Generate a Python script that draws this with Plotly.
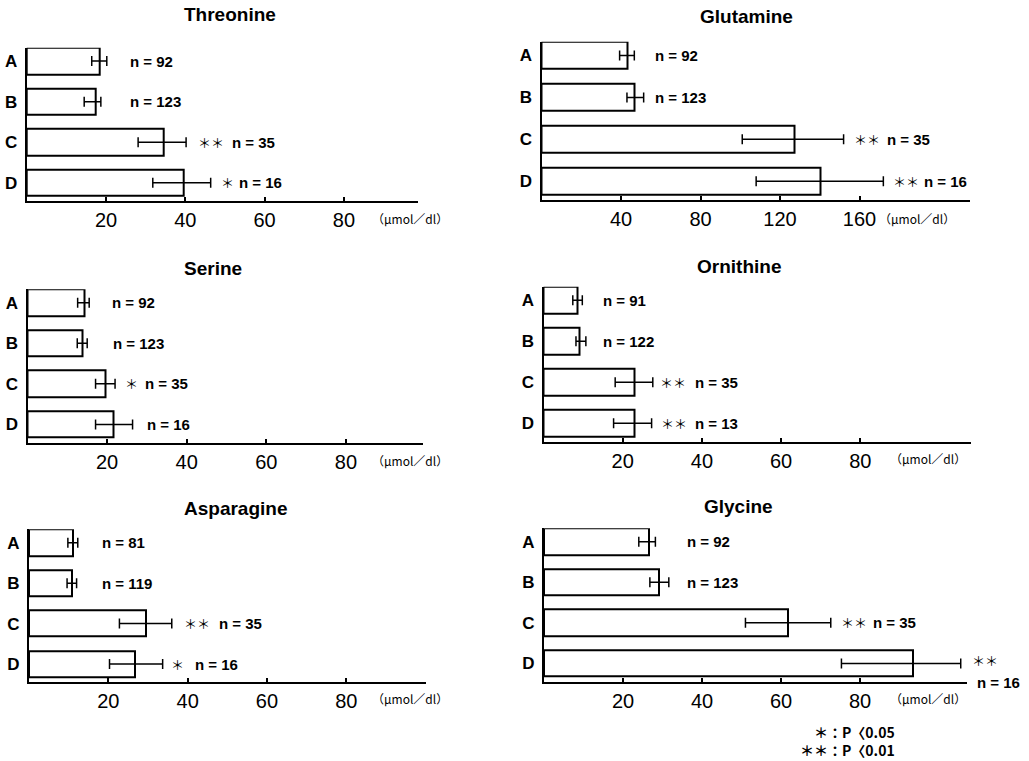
import plotly.graph_objects as go

W, H = 1029, 761

groups = ["A", "B", "C", "D"]
titles = ["Threonine", "Glutamine", "Serine", "Ornithine", "Asparagine", "Glycine"]

# mean values (µmol/dl) and error-bar ends
thr_mean = [18.5, 17.4, 34.5, 39.5]
thr_lo = [16.4, 14.5, 28.1, 31.8]
thr_hi = [20.2, 18.7, 40.2, 46.4]
thr_n = [92, 123, 35, 16]
thr_sig = ["", "", "**", "*"]

gln_mean = [43.5, 47.0, 127.2, 140.3]
gln_lo = [39.3, 43.0, 101.0, 108.0]
gln_hi = [46.7, 51.4, 152.0, 172.0]
gln_n = [92, 123, 35, 16]
gln_sig = ["", "", "**", "**"]

ser_mean = [14.2, 13.7, 19.6, 21.7]
ser_lo = [12.6, 12.5, 17.1, 17.1]
ser_hi = [15.5, 15.0, 22.0, 26.4]
ser_n = [92, 123, 35, 16]
ser_sig = ["", "", "*", ""]

orn_mean = [8.6, 9.2, 23.1, 22.9]
orn_lo = [7.4, 8.2, 18.1, 17.7]
orn_hi = [9.8, 10.7, 27.6, 27.3]
orn_n = [91, 122, 35, 13]
orn_sig = ["", "", "**", "**"]

asn_mean = [11.0, 10.8, 29.4, 26.8]
asn_lo = [9.8, 9.6, 22.8, 20.3]
asn_hi = [12.3, 12.0, 36.0, 33.7]
asn_n = [81, 119, 35, 16]
asn_sig = ["", "", "**", "*"]

gly_mean = [26.5, 29.0, 61.8, 93.4]
gly_lo = [24.0, 26.8, 51.0, 75.3]
gly_hi = [28.2, 31.6, 72.6, 105.5]
gly_n = [92, 123, 35, 16]
gly_sig = ["", "", "**", "**"]

tick_std = [20, 40, 60, 80]
tick_gln = [40, 80, 120, 160]
unit_label = "（μmol／dl）"
footnote = ["＊：P〈0.05", "＊＊：P〈0.01"]

data = [
    (thr_mean, thr_lo, thr_hi, thr_n, thr_sig, tick_std),
    (gln_mean, gln_lo, gln_hi, gln_n, gln_sig, tick_gln),
    (ser_mean, ser_lo, ser_hi, ser_n, ser_sig, tick_std),
    (orn_mean, orn_lo, orn_hi, orn_n, orn_sig, tick_std),
    (asn_mean, asn_lo, asn_hi, asn_n, asn_sig, tick_std),
    (gly_mean, gly_lo, gly_hi, gly_n, gly_sig, tick_std),
]

# layout (pixel geometry, label placement in axis units)
geo = [
    dict(zero=26.7, end=418, ppu=3.965, top=47.7, axis=201, title=(230, 15), unit=(370, 218),
         n_x=[25.5, 25.5, 51.3, 53.0], sig_x=[0, 0, 42.7, 48.5]),
    dict(zero=541.5, end=970, ppu=1.9875, top=41.7, axis=200, title=(746.7, 16.7), unit=(876.7, 218),
         n_x=[56, 56.3, 173, 191.3], sig_x=[0, 0, 156, 176]),
    dict(zero=27.5, end=423.3, ppu=3.98, top=289.3, axis=442.7, title=(213.3, 268.3), unit=(370, 460),
         n_x=[20.7, 20.9, 28.9, 29.5], sig_x=[0, 0, 23.9, 0]),
    dict(zero=543.5, end=970.7, ppu=3.96, top=286.7, axis=441.7, title=(739.3, 266.7), unit=(888.3, 458),
         n_x=[14.5, 14.5, 37.8, 37.8], sig_x=[0, 0, 29.0, 29.2]),
    dict(zero=29.0, end=426, ppu=3.966, top=529.3, axis=682.3, title=(235, 508.3), unit=(370, 698.3),
         n_x=[17.8, 17.8, 47.5, 41.4], sig_x=[0, 0, 38.6, 35.4]),
    dict(zero=544.0, end=966.7, ppu=3.95, top=528.3, axis=681.7, title=(738.3, 506.7), unit=(888, 698),
         n_x=[35.8, 35.8, 82.7, 109.1], sig_x=[0, 0, 74.7, 107.8]),
]

TXT = "Liberation Sans Narrow, Arial Narrow, Liberation Sans, Arial, sans-serif"
BOLD = "Liberation Sans, Arial, sans-serif"
STAR = "Noto Sans CJK JP, DejaVu Sans, sans-serif"

fig = go.Figure()
annotations = []
Y_TOP, Y_BOT = -0.33, 3.45

for i, ((mean, lo, hi, n, sig, ticks), g) in enumerate(zip(data, geo)):
    ax = "" if i == 0 else str(i + 1)
    xr = (g["end"] - g["zero"]) / g["ppu"]

    def xp(v, g=g):
        return (g["zero"] + v * g["ppu"]) / W

    fig.add_trace(go.Bar(
        x=mean, y=groups, orientation="h", width=0.65,
        marker=dict(color="white", line=dict(color="black", width=2)),
        error_x=dict(type="data", symmetric=False,
                     array=[h - m for h, m in zip(hi, mean)],
                     arrayminus=[m - l for m, l in zip(mean, lo)],
                     color="black", thickness=1.5, width=5),
        xaxis="x" + ax, yaxis="y" + ax, showlegend=False, hoverinfo="skip",
    ))
    fig.layout["xaxis" + ax] = dict(
        domain=[g["zero"] / W, g["end"] / W], range=[0, xr], anchor="y" + ax,
        showline=True, linecolor="black", linewidth=2, showgrid=False, zeroline=False,
        ticks="inside", ticklen=4, tickwidth=1.5, tickcolor="black",
        tickvals=ticks, ticktext=[str(t) for t in ticks],
        tickfont=dict(family=TXT, size=20, color="black"), ticklabelstandoff=0,
    )
    fig.layout["yaxis" + ax] = dict(
        domain=[1 - g["axis"] / H, 1 - g["top"] / H], anchor="x" + ax,
        type="category", categoryorder="array", categoryarray=groups,
        range=[Y_BOT, Y_TOP],
        showline=True, linecolor="black", linewidth=2, showgrid=False, zeroline=False,
        ticks="", tickfont=dict(family=BOLD, size=17, color="black", weight="bold"),
        ticklabelstandoff=4,
    )
    # title
    annotations.append(dict(text=titles[i], xref="paper", yref="paper",
                            x=g["title"][0] / W, y=1 - g["title"][1] / H,
                            xanchor="center", yanchor="middle", showarrow=False,
                            font=dict(family=BOLD, size=19, color="black", weight="bold")))
    # unit
    annotations.append(dict(text=unit_label, xref="paper", yref="paper",
                            x=g["unit"][0] / W, y=1 - g["unit"][1] / H,
                            xanchor="left", yanchor="middle", showarrow=False,
                            font=dict(family=STAR, size=12, color="black")))
    for j, grp in enumerate(groups):
        special = (i == 5 and j == 3)
        annotations.append(dict(text=f"n = {n[j]}", xref="paper", yref="y" + ax,
                                x=xp(g["n_x"][j]), y=grp, xanchor="left", yanchor="middle",
                                yshift=-19 if special else 0, showarrow=False,
                                font=dict(family=BOLD, size=15, color="black", weight="bold")))
        if sig[j]:
            annotations.append(dict(text=sig[j].replace("*", "＊"), xref="paper", yref="y" + ax,
                                    x=xp(g["sig_x"][j]), y=grp, xanchor="left", yanchor="middle",
                                    yshift=3 if special else 0, showarrow=False,
                                    font=dict(family=STAR, size=13, color="black")))

for k, (txt, ypx) in enumerate(zip(footnote, [731.7, 750])):
    annotations.append(dict(text=txt, xref="paper", yref="paper",
                            x=897 / W, y=1 - ypx / H, xanchor="right", yanchor="middle",
                            showarrow=False, font=dict(family=STAR, size=14, color="black", weight="bold")))

fig.update_layout(width=W, height=H, margin=dict(l=0, r=0, t=0, b=0),
                  paper_bgcolor="white", plot_bgcolor="white",
                  annotations=annotations, bargap=0)
fig.write_html("out.html")
